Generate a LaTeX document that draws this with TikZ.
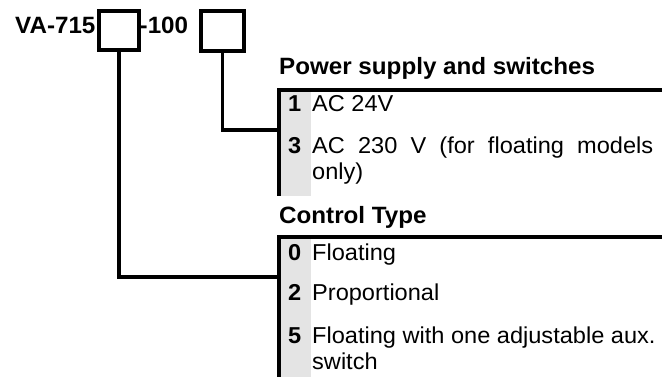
\documentclass[tikz,border=0pt]{standalone}
\usepackage{fontspec}
\setmainfont{Liberation Sans}[FakeStretch=1.025]
\definecolor{colgrey}{RGB}{228,228,228}
\tikzset{
  bar/.style={line width=3.8pt},
  lbl/.style={inner sep=0pt, anchor=base west, font=\fontsize{23}{27}\selectfont},
  hdr/.style={lbl, font=\fontsize{23.6}{27}\selectfont\bfseries},
  num/.style={lbl, font=\fontsize{23}{27}\selectfont\bfseries},
  codebox/.style={draw, bar, minimum width=40pt, minimum height=39pt, inner sep=0pt},
}
\newcommand{\justline}[1]{\makebox[341pt][s]{#1}}
\begin{document}
\begin{tikzpicture}[x=1pt,y=-1pt]
\useasboundingbox (0,0) rectangle (662,377);
% code line
\node[hdr] (code) at (15,34) {VA-715};
\node[codebox, anchor=north west] (box1) at (97,9) {};
\node[hdr] (mid) at (139.5,34) {-100};
\node[codebox, minimum width=43pt, minimum height=40pt, anchor=north west] (box2) at (199,9) {};
% table 1
\fill[colgrey] (281,90) rectangle (311,196);
\node[hdr] (h1) at (279,75) {Power supply and switches};
\coordinate (t1top) at (279,90);
\coordinate (t1bot) at (279,196);
\coordinate (t1right) at (662,90);
\draw[bar] (t1right) -- (t1top) -- (t1bot);
\node[num] (n1) at (288,112) {1};
\node[lbl] (r1) at (312,112) {AC 24V};
\node[num] (n3) at (288,154) {3};
\node[lbl] (r3) at (312,154) {\justline{AC 230 V (for floating models}};
\node[lbl] (r3b) at (312,180) {only)};
% table 2
\fill[colgrey] (281,237) rectangle (311,377);
\node[hdr] (h2) at (279,223) {Control Type};
\coordinate (t2top) at (279,237);
\coordinate (t2bot) at (279,377);
\coordinate (t2right) at (662,237);
\draw[bar] (t2right) -- (t2top) -- (t2bot);
\node[num] (n0) at (288,260) {0};
\node[lbl] (r0) at (312,260) {Floating};
\node[num] (n2) at (288,300) {2};
\node[lbl] (r2) at (312,300) {Proportional};
\node[num] (n5) at (288,343) {5};
\node[lbl] (r5) at (312,343) {Floating with one adjustable aux.};
\node[lbl] (r5b) at (312,369) {switch};
% connectors
\coordinate (j1) at (279,130);
\coordinate (j2) at (279,277);
\draw[bar] (box2.south) |- (j1);
\draw[bar] (box1.south) |- (j2);
\end{tikzpicture}
\end{document}
